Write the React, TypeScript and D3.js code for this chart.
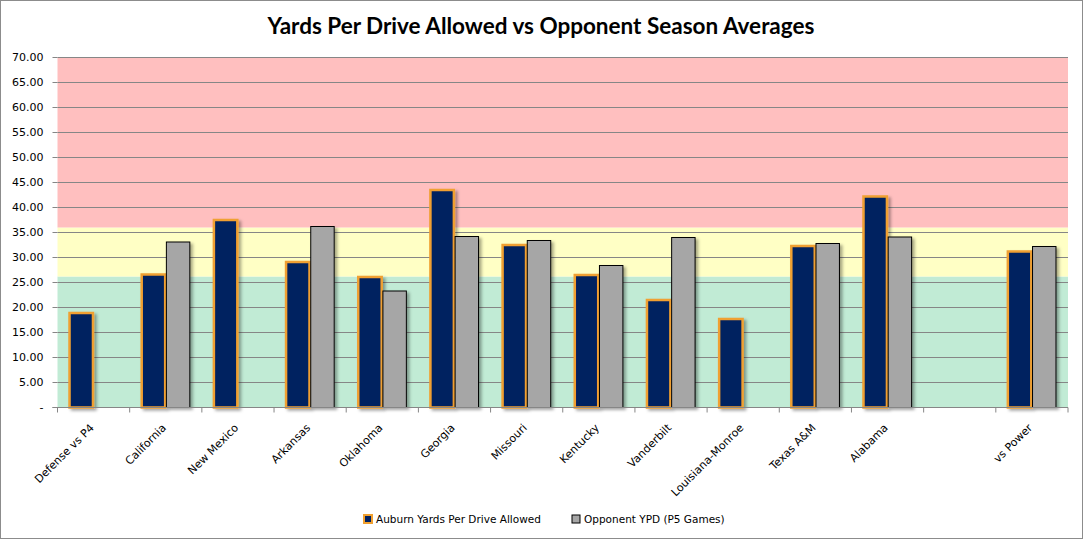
import React, { useEffect } from 'react';
import * as d3 from 'd3';

// values
const categories = [
  'Defense vs P4', 'California', 'New Mexico', 'Arkansas', 'Oklahoma', 'Georgia', 'Missouri',
  'Kentucky', 'Vanderbilt', 'Louisiana-Monroe', 'Texas A&M', 'Alabama', '', 'vs Power',
];
const auburnYpd: (number | null)[] = [18.9, 26.6, 37.5, 29.1, 26.1, 43.5, 32.5, 26.5, 21.5, 17.7, 32.3, 42.2, null, 31.2];
const opponentYpd: (number | null)[] = [null, 33.1, null, 36.2, 23.3, 34.2, 33.4, 28.4, 34.0, null, 32.8, 34.1, null, 32.2];
const seriesNames = ['Auburn Yards Per Drive Allowed', 'Opponent YPD (P5 Games)'];
const yTicks = [0, 5, 10, 15, 20, 25, 30, 35, 40, 45, 50, 55, 60, 65, 70];
// background zones: [from, to]
const zoneLimits: [number, number][] = [[0, 26.2], [26.2, 36], [36, 70]];
const zoneColors = ['#c1ebd5', '#ffffc5', '#ffbfbf'];

const width = 1084;
const height = 540;
const plot = { left: 57.5, right: 1068, top: 57.5, bottom: 407.5 };

const fmtTick = (v: number) => (v === 0 ? '-' : v.toFixed(2));

export default function App() {
  useEffect(() => {
    document.body.style.margin = '0';
  }, []);

  const x = d3.scaleBand<string>().domain(categories).range([plot.left, plot.right]);
  const bw = x.bandwidth();
  const x1 = d3.scaleBand<number>().domain([0, 1]).range([bw / 6, (bw * 5) / 6]).paddingInner(0.05);
  const y = d3.scaleLinear().domain([0, 70]).range([plot.bottom, plot.top]);

  const bars = [auburnYpd, opponentYpd].flatMap((vals, s) =>
    vals.map((v, i) => ({ s, i, v })).filter(d => d.v !== null)
  );

  const tickEdges = d3.range(categories.length + 1).map(i => plot.left + i * bw);

  return (
    <svg width={width} height={height} style={{ display: 'block', fontFamily: 'DejaVu Sans, Verdana, sans-serif' }}>
      <defs>
        <filter id="shadow" x="-30%" y="-10%" width="160%" height="120%">
          <feDropShadow dx="2.5" dy="2" stdDeviation="1.6" floodColor="#000" floodOpacity="0.35" />
        </filter>
      </defs>
      <rect x={0.5} y={0.5} width={width - 2} height={height - 2} fill="#fff" stroke="#8c8c8c" />

      <text x={541} y={34} textAnchor="middle" fontFamily="Lato, sans-serif" fontWeight="bold" fontSize={22.5} fill="#000">
        Yards Per Drive Allowed vs Opponent Season Averages
      </text>

      {/* zones */}
      <g>
        {zoneLimits.map(([a, b], i) => (
          <rect key={i} x={plot.left} width={plot.right - plot.left}
            y={y(b)} height={y(a) - y(b)} fill={zoneColors[i]} />
        ))}
      </g>

      {/* gridlines */}
      {yTicks.filter(t => t > 0).map(t => (
        <line key={t} x1={plot.left} x2={plot.right} y1={y(t)} y2={y(t)} stroke="#868686" strokeWidth={1} />
      ))}

      {/* y tick labels */}
      {yTicks.map(t => (
        <g key={t}>
          <line x1={plot.left - 5} x2={plot.left} y1={y(t)} y2={y(t)} stroke="#868686" />
          <text x={plot.left - 14} y={y(t)} dy="0.35em" textAnchor="end" fontSize={11} fill="#000">
            {fmtTick(t)}
          </text>
        </g>
      ))}

      {/* bars */}
      {bars.map(d => (
        <rect key={`${d.s}-${d.i}`}
          x={(x(categories[d.i]) as number) + (x1(d.s) as number)}
          width={x1.bandwidth()}
          y={y(d.v as number)}
          height={y(0) - y(d.v as number)}
          fill={d.s === 0 ? '#002060' : '#a6a6a6'}
          stroke={d.s === 0 ? '#f0a030' : '#000'}
          strokeWidth={d.s === 0 ? 2.5 : 1}
          filter="url(#shadow)" />
      ))}

      {/* x axis */}
      <line x1={plot.left - 5} x2={plot.right} y1={plot.bottom} y2={plot.bottom} stroke="#868686" />
      {tickEdges.map((tx, i) => (
        <line key={i} x1={tx} x2={tx} y1={plot.bottom} y2={plot.bottom + 5} stroke="#868686" />
      ))}
      {categories.map(c => {
        const cx = (x(c) as number) + bw / 2;
        return (
          <text key={c || 'blank'} transform={`translate(${cx + 1},${plot.bottom + 21}) rotate(-45)`}
            textAnchor="end" fontSize={11} fill="#000">
            {c}
          </text>
        );
      })}

      {/* legend */}
      <g transform="translate(363,519)">
        <rect x={1} y={-4} width={8} height={8} fill="#002060" stroke="#f0a030" strokeWidth={2} />
        <text x={13} y={0} dy="0.35em" fontSize={10.5}>{seriesNames[0]}</text>
        <rect x={209} y={-4} width={8} height={8} fill="#a6a6a6" stroke="#000" strokeWidth={1} />
        <text x={221} y={0} dy="0.35em" fontSize={10.5}>{seriesNames[1]}</text>
      </g>
    </svg>
  );
}
